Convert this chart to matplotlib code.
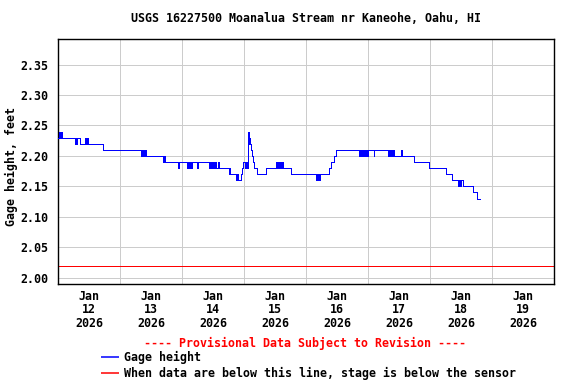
import matplotlib
matplotlib.use("Agg")
import matplotlib.pyplot as plt
import matplotlib.dates as mdates
from matplotlib.lines import Line2D
from matplotlib.ticker import NullFormatter, FixedLocator, FixedFormatter
import pandas as pd

# ---- data (gage height, 15-min step series, change points) ----
times = [
    "01-12 00:00", "01-12 00:15", "01-12 00:30", "01-12 00:45", "01-12 01:00", "01-12 01:15", "01-12 01:30",
    "01-12 06:45", "01-12 07:00", "01-12 07:15", "01-12 07:30", "01-12 08:30",
    "01-12 10:30", "01-12 10:45", "01-12 11:00", "01-12 11:15", "01-12 11:30", "01-12 11:45", "01-12 12:00",
    "01-12 17:30",
    "01-13 08:00", "01-13 08:15", "01-13 08:30", "01-13 08:45", "01-13 09:00", "01-13 09:15", "01-13 09:30",
    "01-13 09:45", "01-13 10:00",
    "01-13 16:45", "01-13 17:00", "01-13 17:15", "01-13 22:30", "01-13 22:45",
    "01-14 02:00", "01-14 02:15", "01-14 02:30", "01-14 02:45", "01-14 03:00", "01-14 03:15", "01-14 03:30",
    "01-14 03:45", "01-14 05:45", "01-14 06:00",
    "01-14 10:30", "01-14 10:45", "01-14 11:00", "01-14 11:15", "01-14 11:30", "01-14 11:45", "01-14 12:00",
    "01-14 12:15", "01-14 12:30", "01-14 12:45", "01-14 13:00",
    "01-14 14:00", "01-14 14:15", "01-14 18:00", "01-14 18:15", "01-14 18:30",
    "01-14 21:00", "01-14 21:15", "01-14 21:30", "01-14 23:00", "01-14 23:15", "01-14 23:30",
    "01-15 00:15", "01-15 00:30", "01-15 00:45", "01-15 01:00", "01-15 01:15",
    "01-15 01:30", "01-15 01:45", "01-15 02:00", "01-15 02:15", "01-15 02:30", "01-15 02:45", "01-15 03:00",
    "01-15 03:30", "01-15 04:00", "01-15 05:00", "01-15 08:30",
    "01-15 12:30", "01-15 12:45", "01-15 13:00", "01-15 13:15", "01-15 13:30", "01-15 13:45", "01-15 14:00",
    "01-15 14:15", "01-15 14:30", "01-15 14:45", "01-15 15:00", "01-15 15:15", "01-15 18:15",
    "01-16 03:45", "01-16 04:00", "01-16 04:15", "01-16 04:30", "01-16 04:45", "01-16 05:00", "01-16 05:15",
    "01-16 05:30", "01-16 09:00", "01-16 09:30", "01-16 10:45", "01-16 11:30",
    "01-16 20:30", "01-16 20:45", "01-16 21:15", "01-16 21:30", "01-16 21:45", "01-16 22:00", "01-16 22:15",
    "01-16 22:30", "01-16 22:45", "01-16 23:00", "01-16 23:15", "01-16 23:30", "01-16 23:45", "01-17 00:00",
    "01-17 02:15", "01-17 02:30",
    "01-17 07:45", "01-17 08:00", "01-17 08:15", "01-17 08:30", "01-17 08:45", "01-17 09:00", "01-17 09:15",
    "01-17 09:30", "01-17 09:45", "01-17 10:00", "01-17 10:15", "01-17 12:45", "01-17 13:00",
    "01-17 17:45", "01-17 23:45",
    "01-18 06:00", "01-18 08:30", "01-18 10:45", "01-18 11:00", "01-18 11:15", "01-18 11:30", "01-18 11:45",
    "01-18 12:00", "01-18 12:45", "01-18 16:30", "01-18 18:00", "01-18 19:15",
]
gage_height = [
    2.23, 2.24, 2.23, 2.24, 2.23, 2.24, 2.23,
    2.22, 2.23, 2.22, 2.23, 2.22,
    2.23, 2.22, 2.23, 2.22, 2.23, 2.22, 2.22,
    2.21,
    2.20, 2.21, 2.20, 2.21, 2.20, 2.21, 2.20,
    2.21, 2.20,
    2.19, 2.20, 2.19, 2.18, 2.19,
    2.18, 2.19, 2.18, 2.19, 2.18, 2.19, 2.18,
    2.19, 2.18, 2.19,
    2.18, 2.19, 2.18, 2.19, 2.18, 2.19, 2.18,
    2.19, 2.18, 2.19, 2.18,
    2.19, 2.18, 2.17, 2.18, 2.17,
    2.16, 2.17, 2.16, 2.17, 2.18, 2.19,
    2.18, 2.19, 2.18, 2.19, 2.18,
    2.24, 2.23, 2.22, 2.23, 2.22, 2.21, 2.20,
    2.19, 2.18, 2.17, 2.18,
    2.19, 2.18, 2.19, 2.18, 2.19, 2.18, 2.19,
    2.18, 2.19, 2.18, 2.19, 2.18, 2.17,
    2.16, 2.17, 2.16, 2.17, 2.16, 2.17, 2.16,
    2.17, 2.18, 2.19, 2.20, 2.21,
    2.20, 2.21, 2.20, 2.21, 2.20, 2.21, 2.20,
    2.21, 2.20, 2.21, 2.20, 2.21, 2.20, 2.21,
    2.20, 2.21,
    2.20, 2.21, 2.20, 2.21, 2.20, 2.21, 2.20,
    2.21, 2.20, 2.21, 2.20, 2.21, 2.20,
    2.19, 2.18,
    2.17, 2.16, 2.15, 2.16, 2.15, 2.16, 2.15,
    2.16, 2.15, 2.14, 2.13, 2.13,
]
sensor_level = 2.02
y_ticks = [2.00, 2.05, 2.10, 2.15, 2.20, 2.25, 2.30, 2.35]
day_labels = ["Jan\n12\n2026", "Jan\n13\n2026", "Jan\n14\n2026", "Jan\n15\n2026",
              "Jan\n16\n2026", "Jan\n17\n2026", "Jan\n18\n2026", "Jan\n19\n2026"]
title = "USGS 16227500 Moanalua Stream nr Kaneohe, Oahu, HI"
ylabel = "Gage height, feet"
provisional = "---- Provisional Data Subject to Revision ----"
legend_labels = ["Gage height", "When data are below this line, stage is below the sensor"]

FONT = dict(family="DejaVu Sans Mono", weight="bold", size=8.4)
W, H = 576, 384
PX = 0.72  # one pixel in points at 100 dpi

t = pd.to_datetime(["2026-" + s for s in times])

fig = plt.figure(figsize=(W / 100, H / 100), dpi=100)
fig.patch.set_facecolor("white")
ax = fig.add_axes([58 / W, 1 - 284 / H, (554 - 58) / W, (284 - 39) / H])

ax.step(t, gage_height, where="post", color="#0000ff", lw=PX, antialiased=False, zorder=3)
ax.axhline(sensor_level, color="#ff0000", lw=PX, antialiased=False, zorder=2)

x0 = pd.Timestamp("2026-01-12 00:00")
x1 = pd.Timestamp("2026-01-20 00:00")
ax.set_xlim(x0, x1)
ax.set_ylim(1.9897, 2.392)

ax.set_yticks(y_ticks)
ax.set_yticklabels(["%.2f" % v for v in y_ticks])
ax.xaxis.set_major_locator(mdates.DayLocator())
ax.xaxis.set_major_formatter(NullFormatter())
noons = [mdates.date2num(x0 + pd.Timedelta(hours=12 + 24 * i)) for i in range(len(day_labels))]
ax.xaxis.set_minor_locator(FixedLocator(noons))
ax.xaxis.set_minor_formatter(FixedFormatter(day_labels))
ax.tick_params(which="both", length=0)
ax.tick_params(axis="x", which="minor", pad=4)
ax.tick_params(axis="y", pad=7)
for lab in ax.get_xticklabels(minor=True):
    lab.set_fontproperties(matplotlib.font_manager.FontProperties(**FONT))
    lab.set_linespacing(1.05)
for lab in ax.get_yticklabels():
    lab.set_fontproperties(matplotlib.font_manager.FontProperties(**FONT))

ax.grid(which="major", color="#cccccc", lw=PX, antialiased=False)
ax.set_axisbelow(True)
for s in ax.spines.values():
    s.set_color("black")
    s.set_linewidth(PX * 1.4)

fig.text(306 / W, 1 - 19 / H, title, ha="center", va="center", **FONT)
fig.text(11 / W, 1 - 166 / H, ylabel, ha="center", va="center", rotation=90, **FONT)
fig.text(305 / W, 1 - 343 / H, provisional, ha="center", va="center", color="#ff0000", **FONT)

legend_colors = ["#0000ff", "#ff0000"]
legend_y = [357, 373]
for lbl, c, yy in zip(legend_labels, legend_colors, legend_y):
    fig.add_artist(Line2D([101 / W, 119 / W], [1 - yy / H, 1 - yy / H], color=c, lw=1.1,
                          solid_capstyle="butt", transform=fig.transFigure))
    fig.text(124 / W, 1 - yy / H, lbl, ha="left", va="center", **FONT)

fig.savefig("out.png", dpi=100, facecolor="white")
